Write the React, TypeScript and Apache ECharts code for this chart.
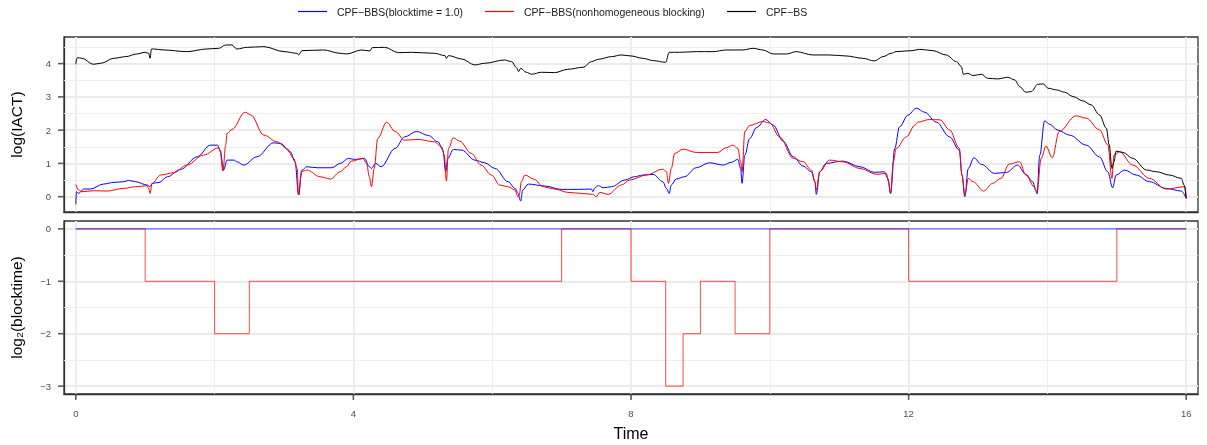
import React, { useEffect, useRef } from "react";
import * as echarts from "echarts";

// ---- data ----
const seriesNames = ["CPF\u2212BBS(blocktime = 1.0)", "CPF\u2212BBS(nonhomogeneous blocking)", "CPF\u2212BS"];

const blueX = [0, 0.01, 0.04, 0.115, 0.21, 0.4, 0.55, 0.69, 0.76, 0.86, 1.03, 1.07, 1.1, 1.2, 1.32, 1.51, 1.75, 1.94, 2.04, 2.08, 2.13, 2.18, 2.28, 2.32, 2.42, 2.61, 2.85, 2.95, 3.09, 3.16, 3.21, 3.26, 3.33, 3.48, 3.69, 3.81, 3.93, 4.02, 4.16, 4.23, 4.26, 4.32, 4.4, 4.6, 4.74, 4.91, 5.08, 5.22, 5.29, 5.33, 5.36, 5.44, 5.56, 5.75, 5.89, 6.04, 6.23, 6.33, 6.37, 6.41, 6.44, 6.52, 6.76, 6.99, 7.24, 7.43, 7.45, 7.48, 7.53, 7.6, 7.72, 7.91, 8.05, 8.17, 8.32, 8.46, 8.51, 8.55, 8.58, 8.65, 8.77, 8.94, 9.13, 9.33, 9.44, 9.54, 9.58, 9.6, 9.64, 9.71, 9.81, 9.94, 10.05, 10.19, 10.34, 10.48, 10.6, 10.65, 10.67, 10.72, 10.81, 11.05, 11.3, 11.51, 11.65, 11.7, 11.74, 11.8, 11.87, 11.99, 12.11, 12.23, 12.4, 12.59, 12.73, 12.77, 12.81, 12.86, 12.94, 13.05, 13.24, 13.41, 13.57, 13.69, 13.79, 13.83, 13.85, 13.89, 13.96, 14.03, 14.15, 14.32, 14.56, 14.75, 14.87, 14.94, 14.99, 15.11, 15.28, 15.47, 15.71, 15.93, 16];
const blueY = [-0.23, 0.15, 0.1, 0.23, 0.23, 0.38, 0.43, 0.45, 0.49, 0.45, 0.35, 0.3, 0.4, 0.43, 0.6, 0.82, 1.2, 1.55, 1.55, 1.4, 0.8, 1.1, 1.1, 1.05, 0.95, 1.2, 1.62, 1.6, 1.35, 1.05, 0.05, 0.8, 0.9, 0.87, 0.87, 1.0, 1.15, 1.12, 1.15, 0.9, 0.85, 1.0, 0.9, 1.45, 1.8, 1.96, 1.84, 1.65, 1.4, 0.75, 1.15, 1.42, 1.4, 1.1, 1.02, 0.85, 0.45, 0.25, 0.1, -0.13, 0.2, 0.38, 0.32, 0.22, 0.22, 0.23, 0.15, 0.27, 0.33, 0.27, 0.3, 0.5, 0.6, 0.65, 0.67, 0.45, 0.25, 0.1, 0.35, 0.53, 0.6, 0.87, 1.02, 0.95, 1.03, 1.12, 0.85, 0.4, 1.25, 1.75, 2.08, 2.32, 2.15, 1.67, 1.2, 0.92, 0.75, 0.45, 0.07, 0.75, 1.0, 1.07, 0.9, 0.73, 0.75, 0.55, 0.1, 1.45, 2.1, 2.45, 2.66, 2.54, 2.24, 1.8, 1.4, 0.65, 0.0, 0.85, 1.17, 0.97, 0.7, 0.73, 0.95, 0.67, 0.45, 0.2, 0.09, 1.25, 2.28, 2.18, 2.0, 1.85, 1.55, 1.2, 0.75, 0.27, 0.65, 0.8, 0.65, 0.45, 0.25, 0.17, -0.05];

const redX = [0, 0.04, 0.09, 0.26, 0.45, 0.69, 0.86, 1.03, 1.05, 1.07, 1.1, 1.22, 1.41, 1.6, 1.84, 2.06, 2.08, 2.12, 2.16, 2.18, 2.25, 2.44, 2.52, 2.71, 2.9, 3.04, 3.14, 3.19, 3.21, 3.25, 3.33, 3.52, 3.67, 3.81, 3.9, 3.97, 4.14, 4.19, 4.23, 4.26, 4.3, 4.35, 4.48, 4.6, 4.74, 4.93, 5.17, 5.27, 5.31, 5.34, 5.37, 5.44, 5.53, 5.7, 5.84, 5.99, 6.11, 6.23, 6.33, 6.37, 6.39, 6.42, 6.47, 6.61, 6.73, 6.9, 7.09, 7.28, 7.45, 7.5, 7.55, 7.67, 7.86, 7.98, 8.22, 8.46, 8.51, 8.54, 8.58, 8.63, 8.75, 8.94, 9.25, 9.37, 9.47, 9.54, 9.58, 9.6, 9.64, 9.71, 9.9, 10.0, 10.14, 10.34, 10.48, 10.6, 10.65, 10.67, 10.72, 10.86, 11.05, 11.3, 11.54, 11.68, 11.71, 11.74, 11.78, 11.82, 11.97, 12.09, 12.13, 12.3, 12.45, 12.59, 12.73, 12.77, 12.81, 12.86, 12.93, 13.08, 13.21, 13.33, 13.45, 13.6, 13.69, 13.81, 13.85, 13.91, 13.98, 14.07, 14.17, 14.41, 14.56, 14.75, 14.87, 14.93, 14.96, 15.04, 15.23, 15.47, 15.71, 15.98, 16];
const redY = [0.37, 0.2, 0.15, 0.18, 0.17, 0.25, 0.3, 0.33, 0.25, 0.1, 0.4, 0.65, 0.72, 0.95, 1.25, 1.47, 1.35, 0.77, 1.55, 1.9, 2.02, 2.54, 2.46, 1.85, 1.65, 1.45, 1.15, 0.85, 0.05, 0.75, 0.8, 0.6, 0.53, 0.75, 0.9, 1.07, 1.15, 1.0, 0.6, 0.3, 0.85, 1.75, 2.24, 1.96, 1.7, 1.72, 1.65, 1.5, 1.25, 0.47, 1.45, 1.77, 1.67, 1.3, 0.95, 0.65, 0.35, 0.3, 0.2, 0.0, 0.05, 0.45, 0.65, 0.52, 0.3, 0.23, 0.13, 0.1, 0.07, 0.0, 0.13, 0.07, 0.35, 0.5, 0.65, 0.83, 0.75, 0.4, 0.85, 1.3, 1.43, 1.33, 1.33, 1.47, 1.55, 1.45, 1.05, 0.75, 1.96, 2.14, 2.26, 2.21, 1.8, 1.15, 1.05, 0.8, 0.45, 0.2, 0.75, 1.1, 1.05, 0.85, 0.67, 0.7, 0.45, 0.1, 1.05, 1.45, 1.8, 2.15, 2.24, 2.32, 2.31, 2.01, 1.46, 0.65, 0.05, 0.55, 0.45, 0.17, 0.4, 0.55, 0.98, 1.05, 0.65, 0.3, 0.13, 1.15, 1.52, 1.17, 1.96, 2.43, 2.36, 2.01, 1.56, 0.55, 1.25, 1.35, 0.95, 0.55, 0.23, 0.3, -0.05];

const blackX = [0, 0.02, 0.09, 0.25, 0.36, 0.55, 0.72, 0.88, 1.0, 1.05, 1.07, 1.09, 1.12, 1.27, 1.6, 1.89, 2.06, 2.16, 2.25, 2.32, 2.47, 2.71, 3.0, 3.19, 3.21, 3.26, 3.57, 3.81, 3.9, 4.12, 4.24, 4.27, 4.45, 4.65, 4.84, 5.17, 5.32, 5.34, 5.37, 5.56, 5.75, 5.89, 6.18, 6.28, 6.35, 6.38, 6.41, 6.49, 6.57, 6.71, 6.9, 7.09, 7.31, 7.43, 7.53, 7.72, 7.86, 8.0, 8.17, 8.32, 8.5, 8.55, 8.7, 8.94, 9.18, 9.37, 9.61, 9.76, 9.9, 10.05, 10.24, 10.38, 10.62, 10.86, 11.1, 11.34, 11.51, 11.63, 11.75, 11.82, 12.05, 12.16, 12.35, 12.54, 12.69, 12.76, 12.79, 12.85, 12.93, 13.05, 13.14, 13.28, 13.43, 13.53, 13.6, 13.69, 13.77, 13.86, 13.94, 14.01, 14.13, 14.25, 14.37, 14.51, 14.63, 14.75, 14.85, 14.89, 14.93, 14.96, 14.99, 15.09, 15.23, 15.43, 15.57, 15.76, 15.93, 15.97, 16];
const blackY = [3.98, 4.18, 4.16, 3.98, 4.01, 4.16, 4.21, 4.29, 4.34, 4.31, 4.16, 4.44, 4.44, 4.41, 4.36, 4.44, 4.46, 4.56, 4.56, 4.44, 4.49, 4.51, 4.36, 4.31, 4.26, 4.39, 4.41, 4.31, 4.29, 4.41, 4.38, 4.48, 4.49, 4.33, 4.34, 4.31, 4.24, 4.16, 4.24, 4.14, 3.96, 4.01, 4.11, 4.06, 3.88, 3.76, 3.86, 3.74, 3.68, 3.74, 3.73, 3.83, 3.89, 4.06, 4.13, 4.21, 4.26, 4.23, 4.16, 4.09, 4.04, 4.34, 4.34, 4.36, 4.36, 4.41, 4.41, 4.46, 4.41, 4.29, 4.29, 4.36, 4.26, 4.26, 4.23, 4.16, 4.08, 4.21, 4.31, 4.36, 4.39, 4.43, 4.39, 4.26, 4.06, 3.91, 3.68, 3.71, 3.64, 3.68, 3.56, 3.54, 3.59, 3.51, 3.31, 3.14, 3.16, 3.38, 3.39, 3.26, 3.21, 3.14, 3.01, 2.88, 2.76, 2.46, 2.06, 1.56, 0.85, 1.05, 1.37, 1.33, 1.15, 0.8, 0.75, 0.65, 0.55, 0.35, -0.05];

// log2(blocktime): value held from each time until the next
const stepTimes = [0, 1, 2, 2.5, 7, 8, 8.5, 8.75, 9, 9.5, 10, 12, 15, 16];
const stepRed = [0, -1, -2, -1, 0, -1, -3, -2, -1, -2, 0, -1, 0, 0];
const uniformTimes = [0, 16];
const uniformBlue = [0, 0];

// axis ranges and tick values
const xRange = [-0.17, 16.17];
const topYRange = [-0.46, 4.8];
const botYRange = [-3.15, 0.15];
const xTicks = [0, 4, 8, 12, 16];
const xMinor = [2, 6, 10, 14];
const topYTicks = [0, 1, 2, 3, 4];
const topYMinor = [0.5, 1.5, 2.5, 3.5, 4.5];
const botYTicks = [-3, -2, -1, 0];
const botYMinor = [-2.5, -1.5, -0.5];

const pairs = (xs: number[], ys: number[]) => xs.map((x, i) => [x, ys[i]]);
const minus = (v: number) => (v < 0 ? "\u2212" + Math.abs(v) : String(v));

const FONT = "Liberation Sans, Arial, sans-serif";
const GRID_MAJOR = { color: "#ebebeb", width: 1.8 };
const GRID_MINOR = { color: "#ededed", width: 0.9 };
const FRAME = { show: true, onZero: false, lineStyle: { color: "#333333", width: 1.3 } };

function minorLines(xs: number[], ys: number[]) {
  return {
    silent: true,
    z: 1,
    symbol: ["none", "none"],
    label: { show: false },
    emphasis: { disabled: true },
    lineStyle: { type: "solid", ...GRID_MINOR },
    data: [...xs.map((x) => ({ xAxis: x })), ...ys.map((y) => ({ yAxis: y }))],
  };
}

// outward tick marks placed at the axis edge through the axis scales
function tickMarks(name: string, gridIdx: number, data: number[][], vertical: boolean) {
  return {
    name, type: "scatter", xAxisIndex: gridIdx, yAxisIndex: gridIdx,
    data, symbol: "rect", clip: false, silent: true, z: 6,
    symbolSize: vertical ? [1.6, 5.5] : [5.5, 1.6],
    symbolOffset: vertical ? [0, 3.2] : [-3.2, 0],
    itemStyle: { color: "#333333" },
    emphasis: { disabled: true },
  };
}

export default function App() {
  const ref = useRef<HTMLDivElement>(null);
  useEffect(() => {
    if (!ref.current) return;
    const chart = echarts.init(ref.current, null, { renderer: "svg" });
    const labelStyle = { fontSize: 9.5, color: "#4d4d4d", fontFamily: FONT };
    const legendCommon = {
      top: 1,
      itemWidth: 29,
      itemHeight: 1.2,
      icon: "rect",
      selectedMode: false,
      textStyle: { fontSize: 10.5, color: "#1a1a1a", fontFamily: FONT, padding: [0, 0, 0, 5] },
    };
    const lineCommon = { showSymbol: false, symbol: "none", smooth: 0.35, smoothMonotone: "x" };
    chart.setOption({
      animation: false,
      textStyle: { fontFamily: FONT },
      legend: [
        { ...legendCommon, left: 293, data: [seriesNames[0]] },
        { ...legendCommon, left: 480, data: [seriesNames[1]] },
        { ...legendCommon, left: 722, data: [seriesNames[2]] },
      ],
      grid: [
        { left: 64, top: 37, width: 1134, height: 175, show: true, borderColor: "#333333", borderWidth: 1.3, backgroundColor: "transparent", containLabel: false },
        { left: 64, top: 221, width: 1134, height: 173, show: true, borderColor: "#333333", borderWidth: 1.3, backgroundColor: "transparent", containLabel: false },
      ],
      xAxis: [
        {
          type: "value", gridIndex: 0, min: xRange[0], max: xRange[1], minInterval: 4, maxInterval: 4,
          axisLine: FRAME, axisTick: { show: false }, axisLabel: { show: false },
          splitLine: { show: true, showMinLine: false, showMaxLine: false, lineStyle: GRID_MAJOR },
        },
        {
          type: "value", gridIndex: 1, min: xRange[0], max: xRange[1], minInterval: 4, maxInterval: 4,
          axisLine: FRAME, axisTick: { show: false },
          axisLabel: { ...labelStyle, margin: 14, customValues: xTicks, formatter: minus },
          splitLine: { show: true, showMinLine: false, showMaxLine: false, lineStyle: GRID_MAJOR },
          name: "Time", nameLocation: "middle", nameGap: 31,
          nameTextStyle: { fontSize: 16, color: "#000000", fontFamily: FONT },
        },
      ],
      yAxis: [
        {
          type: "value", gridIndex: 0, min: topYRange[0], max: topYRange[1], minInterval: 1, maxInterval: 1,
          axisLine: FRAME, axisTick: { show: false },
          axisLabel: { ...labelStyle, margin: 13, customValues: topYTicks, formatter: minus },
          splitLine: { show: true, showMinLine: false, showMaxLine: false, lineStyle: GRID_MAJOR },
          name: "log(IACT)", nameLocation: "middle", nameGap: 40,
          nameTextStyle: { fontSize: 15.5, color: "#000000", fontFamily: FONT },
        },
        {
          type: "value", gridIndex: 1, min: botYRange[0], max: botYRange[1], minInterval: 1, maxInterval: 1,
          axisLine: FRAME, axisTick: { show: false },
          axisLabel: { ...labelStyle, margin: 13, customValues: botYTicks, formatter: minus },
          splitLine: { show: true, showMinLine: false, showMaxLine: false, lineStyle: GRID_MAJOR },
          name: "log\u2082(blocktime)", nameLocation: "middle", nameGap: 40,
          nameTextStyle: { fontSize: 15.5, color: "#000000", fontFamily: FONT },
        },
      ],
      series: [
        {
          name: "minor-top", type: "line", xAxisIndex: 0, yAxisIndex: 0, z: 1, data: [],
          markLine: minorLines(xMinor, topYMinor),
        },
        {
          name: "minor-bottom", type: "line", xAxisIndex: 1, yAxisIndex: 1, z: 1, data: [],
          markLine: minorLines(xMinor, botYMinor),
        },
        {
          ...lineCommon, name: seriesNames[0], type: "line", xAxisIndex: 0, yAxisIndex: 0,
          data: pairs(blueX, blueY),
          color: "#0000ff", itemStyle: { color: "#0000ff" }, lineStyle: { color: "#0000ff", width: 1 },
        },
        {
          ...lineCommon, name: seriesNames[1], type: "line", xAxisIndex: 0, yAxisIndex: 0,
          data: pairs(redX, redY),
          color: "#ff0000", itemStyle: { color: "#ff0000" }, lineStyle: { color: "#ff0000", width: 1 },
        },
        {
          ...lineCommon, name: seriesNames[2], type: "line", xAxisIndex: 0, yAxisIndex: 0,
          data: pairs(blackX, blackY),
          color: "#000000", itemStyle: { color: "#000000" }, lineStyle: { color: "#000000", width: 1 },
        },
        {
          name: "blocktime nonhomogeneous", type: "line", xAxisIndex: 1, yAxisIndex: 1, step: "end",
          data: pairs(stepTimes, stepRed), showSymbol: false, symbol: "none",
          lineStyle: { color: "rgba(255,0,0,0.7)", width: 1 },
        },
        {
          name: "blocktime uniform", type: "line", xAxisIndex: 1, yAxisIndex: 1,
          data: pairs(uniformTimes, uniformBlue), showSymbol: false, symbol: "none",
          lineStyle: { color: "rgba(0,0,255,0.55)", width: 1.2 },
        },
        tickMarks("ticks-top-y", 0, topYTicks.map((v) => [xRange[0], v]), false),
        tickMarks("ticks-bottom-y", 1, botYTicks.map((v) => [xRange[0], v]), false),
        tickMarks("ticks-bottom-x", 1, xTicks.map((v) => [v, botYRange[0]]), true),
      ],
    });
    return () => chart.dispose();
  }, []);
  return <div ref={ref} style={{ position: "fixed", left: 0, top: 0, width: 1207, height: 445 }} />;
}
